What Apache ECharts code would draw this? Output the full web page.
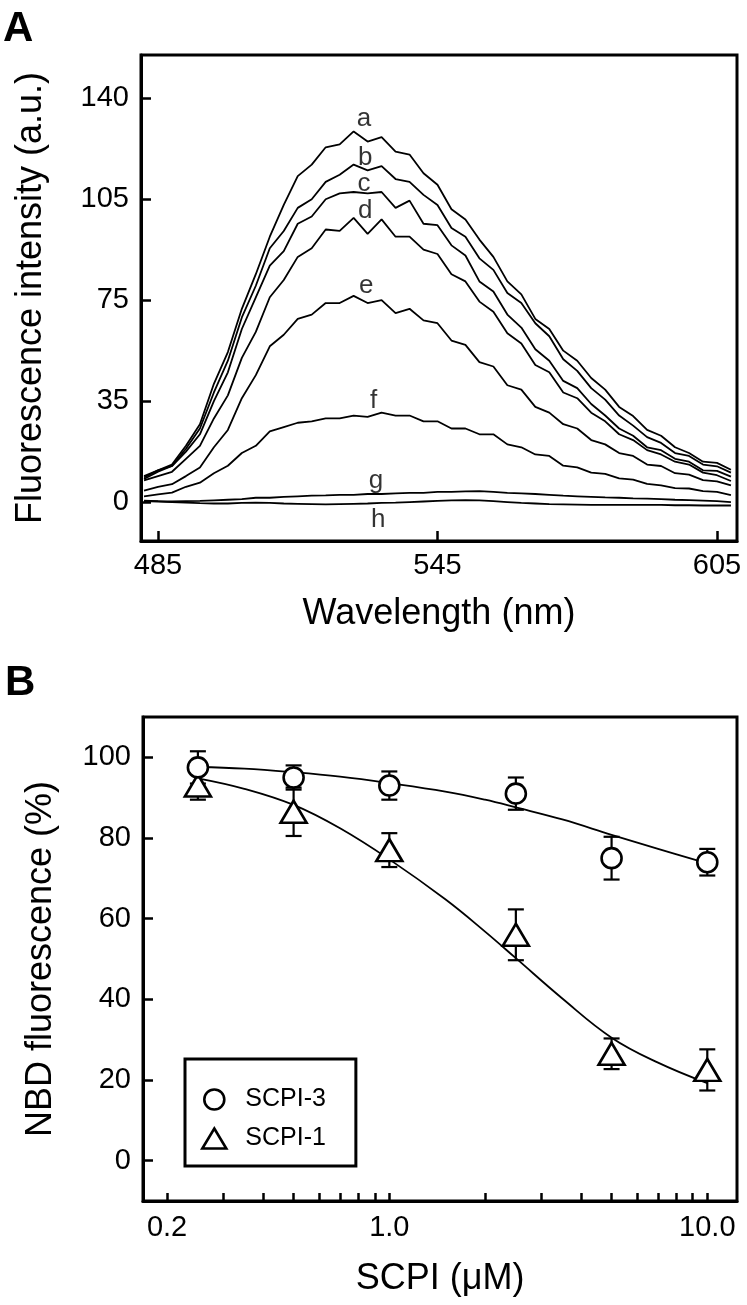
<!DOCTYPE html>
<html><head><meta charset="utf-8">
<script src="https://cdn.jsdelivr.net/npm/echarts@6/dist/echarts.min.js"></script>
<style>html,body{margin:0;padding:0;background:#fff}#c{width:747px;height:1305px}</style>
</head><body><div id="c"></div>
<script>
// ---------- Panel A data ----------
const wavelengths = [482,485,488,491,494,497,500,503,506,509,512,515,518,521,524,527,530,533,536,539,542,545,548,551,554,557,560,563,566,569,572,575,578,581,584,587,590,593,596,599,602,605,608];
const curveA = [8.5,11,13,19.5,27,41,52,67,79,92,103,113,117,123,124,128.5,125,126.5,121.5,120.5,114,110,101.5,98,91,85,76.5,72,63.5,60,52.5,49,43,39,33,29.8,25,23,19,17,14,13.6,11.2];
const curveB = [8,10.5,12.5,18.5,25.5,38,49,64,75,88,94,102,105,111,113.5,117,115,116.5,112,111,106.5,103,95,92,84.5,80.5,72.5,69,62,57.5,49.5,45.5,39.5,35.5,30,26.5,22.5,20.5,17,16,13,12.4,10.2];
const curveC = [9,11,12.5,17.5,23.5,35,45,60,71,82,87,96.5,99,105,107,107.5,107,107.5,102,104.5,96.5,96,89,85.5,76.5,73,65,60.5,53,49,42,39.5,34,30,25.5,23,19,18,15,14,11,10.8,8.8];
const curveD = [7.5,9,10.5,15,19.5,29,37,50,59,71,77,85,88,94.5,94,98.5,93,98,92,92,87.5,86,79,76.5,69.5,66,58.5,55,47.5,45,38,36,31,28,23.5,21.5,18,16.5,14,13,10.2,9.3,7.3];
const curveE = [4,5.3,6.2,9,12,19,25,36,44,54,58,63.5,65,69,69,71.5,69,70,65.5,67,63,62,56,54.5,48.5,47,40.5,39,33,31,27,25.5,21.5,20,17,16,13,12.5,10,9.5,7.6,7.2,5.8];
const curveF = [2,2.7,3.3,5.3,6.7,10,12.6,17,19.5,24.5,26,27.5,28,29,29,30,29.5,31,30,30,28,28,25.5,25.5,23.5,23.5,20,19,16.5,16,12.6,12,10.2,9.8,8.2,7.8,6.3,5.8,4.8,4.7,3.8,3.5,2.4];
const curveG = [0.5,0.3,0.2,0.3,0.4,0.6,0.8,1,1.5,1.5,1.8,2,2.2,2.3,2.5,2.5,2.8,2.8,3,3.2,3.2,3.5,3.5,3.7,3.8,3.5,3.2,3,2.8,2.5,2.2,2,1.8,1.6,1.5,1.3,1.2,1,0.8,0.7,0.5,0.3,0];
const curveH = [0.3,0.2,0,-0.2,-0.4,-0.5,-0.5,-0.3,-0.2,-0.3,-0.5,-0.6,-0.7,-0.8,-0.7,-0.6,-0.5,-0.3,-0.2,0,0.2,0.4,0.6,0.7,0.6,0.3,0,-0.3,-0.5,-0.7,-0.8,-0.9,-1,-1,-1,-1,-1,-1,-1.1,-1.1,-1.2,-1.2,-1.2];
const curveNames = ['a','b','c','d','e','f','g','h'];
const curveLabelX = [529.2,529.5,529.2,529.5,529.7,531.3,531.8,532.3];
const curveLabelY = [133,119.5,110.5,101,75,35,7.5,-6.2];
const yTicksA = [0,35,70,105,140];
const yTickTextA = ['0','35','75','105','140'];
const xTicksA = [485,545,605];

// ---------- Panel B data ----------
const conc = [0.25,0.5,1,2.5,5,10];
const scpi3 = [97.5,95,93,91,75,74];
const scpi3Err = [4,3,3.5,4,5.3,3.3];
const scpi1 = [93,86.5,77,56,26.5,22.5];
const scpi1Err = [3.5,6,4.2,6.3,3.8,5.1];
const fitConc = [0.25,0.35,0.5,0.7,1,1.5,2,2.5,3.5,5,7,10];
const fit3 = [97.6,97.2,96.3,95.2,93.6,91.5,89.5,87.6,84.6,80.8,77.3,73.7];
const fit1 = [94.8,92.2,88.2,82.4,74.7,64.8,56.8,50.2,40.2,30.5,24.3,19.2];
const xMajorB = [0.2,1,10];
const xMajorTextB = ['0.2','1.0','10.0'];
const xMinorB = [0.3,0.4,0.5,0.6,0.7,0.8,0.9,2,3,4,5,6,7,8,9];
const yTicksB = [0,20,40,60,80,100];

// ---------- chart ----------
const FONT = 'Liberation Sans, Arial, Helvetica, sans-serif';
const lg = v => Math.log10(v);
const chart = echarts.init(document.getElementById('c'), null, {renderer:'canvas'});

const curves = [curveA,curveB,curveC,curveD,curveE,curveF,curveG,curveH];
const seriesA = curves.map((cv,k)=>({
  type:'line', name:'curve-'+curveNames[k], xAxisIndex:0, yAxisIndex:0,
  data: wavelengths.map((w,i)=>[w,cv[i]]),
  showSymbol:false, symbol:'none', lineStyle:{color:'#000',width:1.8,opacity:1}, z:2, silent:true
}));
seriesA.push({
  type:'scatter', name:'curve-labels', xAxisIndex:0, yAxisIndex:0,
  data: curveNames.map((n,i)=>[curveLabelX[i],curveLabelY[i]]),
  symbolSize:1, itemStyle:{color:'rgba(0,0,0,0)'},
  label:{show:true, position:'inside', formatter:p=>curveNames[p.dataIndex], fontSize:26, fontFamily:FONT, color:'#000'},
  z:3, silent:true
});

function errSeries(vals, errs, nm){
  return {
    type:'custom', name:nm, xAxisIndex:1, yAxisIndex:1, z:1, silent:true,
    data: conc.map((c,i)=>[lg(c), vals[i]-errs[i], vals[i]+errs[i]]),
    renderItem:(params, api)=>{
      const x = api.value(0);
      const lo = api.coord([x, api.value(1)]);
      const hi = api.coord([x, api.value(2)]);
      const w = 8, st = {stroke:'#000', lineWidth:2.2};
      return {type:'group', children:[
        {type:'line', shape:{x1:lo[0],y1:lo[1],x2:hi[0],y2:hi[1]}, style:st},
        {type:'line', shape:{x1:lo[0]-w,y1:lo[1],x2:lo[0]+w,y2:lo[1]}, style:st},
        {type:'line', shape:{x1:hi[0]-w,y1:hi[1],x2:hi[0]+w,y2:hi[1]}, style:st}
      ]};
    }
  };
}
const markerStyle = {color:'#fff', borderColor:'#000', borderWidth:2.6, opacity:1};
const seriesB = [
  {type:'line', name:'fit-3', xAxisIndex:1, yAxisIndex:1, data:fitConc.map((c,i)=>[lg(c),fit3[i]]), smooth:0.4, showSymbol:false, symbol:'none', lineStyle:{color:'#000',width:1.8}, z:1, silent:true},
  {type:'line', name:'fit-1', xAxisIndex:1, yAxisIndex:1, data:fitConc.map((c,i)=>[lg(c),fit1[i]]), smooth:0.4, showSymbol:false, symbol:'none', lineStyle:{color:'#000',width:1.8}, z:1, silent:true},
  errSeries(scpi3, scpi3Err, 'err-3'),
  errSeries(scpi1, scpi1Err, 'err-1'),
  {type:'scatter', name:'SCPI-3', xAxisIndex:1, yAxisIndex:1, data:conc.map((c,i)=>[lg(c),scpi3[i]]), symbol:'circle', symbolSize:20, itemStyle:markerStyle, z:4, silent:true},
  {type:'scatter', name:'SCPI-1', xAxisIndex:1, yAxisIndex:1, data:conc.map((c,i)=>[lg(c),scpi1[i]]), symbol:'triangle', symbolSize:[26,22], itemStyle:markerStyle, z:3, silent:true}
];

const axisLineStyle = {show:true, onZero:false, lineStyle:{color:'#000', width:3}};
const tickStyle = {show:true, inside:true, length:10, lineStyle:{color:'#000', width:2.5}};
const labelStyle = {color:'#000', fontSize:29, fontFamily:FONT};

const option = {
  animation:false,
  backgroundColor:'#fff',
  textStyle:{fontFamily:FONT},
  grid:[
    {left:141, top:55, width:596, height:486, show:true, borderColor:'#000', borderWidth:3, backgroundColor:'transparent'},
    {left:143, top:717, width:594, height:484, show:true, borderColor:'#000', borderWidth:3, backgroundColor:'transparent'}
  ],
  xAxis:[
    {type:'value', gridIndex:0, min:481.35, max:609.3,
     axisLine:axisLineStyle, splitLine:{show:false},
     axisTick:Object.assign({customValues:xTicksA}, tickStyle),
     axisLabel:Object.assign({customValues:xTicksA, margin:10, formatter:v=>String(v)}, labelStyle),
     name:'Wavelength (nm)', nameLocation:'middle', nameGap:55,
     nameTextStyle:{fontSize:36, color:'#000', fontFamily:FONT}},
    {type:'value', gridIndex:1, min:lg(0.168), max:lg(12.4),
     axisLine:axisLineStyle, splitLine:{show:false},
     axisTick:Object.assign({customValues:xMajorB.concat(xMinorB).map(lg)}, tickStyle, {length:8}),
     axisLabel:Object.assign({customValues:xMajorB.map(lg), margin:12,
        formatter:v=>{ let best=0, d=1e9; xMajorB.forEach((m,i)=>{const dd=Math.abs(lg(m)-v); if(dd<d){d=dd;best=i;}}); return xMajorTextB[best]; }}, labelStyle),
     name:'SCPI (\u03BCM)', nameLocation:'middle', nameGap:60,
     nameTextStyle:{fontSize:36, color:'#000', fontFamily:FONT}}
  ],
  yAxis:[
    {type:'value', gridIndex:0, min:-13.5, max:155,
     axisLine:axisLineStyle, splitLine:{show:false},
     axisTick:Object.assign({customValues:yTicksA}, tickStyle),
     axisLabel:Object.assign({customValues:yTicksA, margin:12, formatter:v=>{const i=yTicksA.indexOf(v); return i>=0?yTickTextA[i]:String(v);}}, labelStyle),
     name:'Fluorescence intensity (a.u.)', nameLocation:'middle', nameGap:92,
     nameTextStyle:{fontSize:36, color:'#000', fontFamily:FONT}},
    {type:'value', gridIndex:1, min:-10, max:110,
     axisLine:axisLineStyle, splitLine:{show:false},
     axisTick:Object.assign({customValues:yTicksB}, tickStyle),
     axisLabel:Object.assign({customValues:yTicksB, margin:12, formatter:v=>String(v)}, labelStyle),
     name:'NBD fluorescence (%)', nameLocation:'middle', nameGap:84,
     nameTextStyle:{fontSize:36, color:'#000', fontFamily:FONT}}
  ],
  legend:{
    data:[
      {name:'SCPI-3', icon:'circle', itemStyle:markerStyle},
      {name:'SCPI-1', icon:'triangle', itemStyle:markerStyle}
    ],
    orient:'vertical', left:185, top:1059, itemWidth:24, itemHeight:20, itemGap:14,
    padding:[28,30,15,16], borderColor:'#000', borderWidth:3, selectedMode:false,
    textStyle:{fontSize:25, fontFamily:FONT, color:'#000', padding:[0,0,0,14]}
  },
  graphic:[
    {type:'text', left:3, top:8, style:{text:'A', font:'bold 42px '+FONT, fill:'#000'}},
    {type:'text', left:5, top:662, style:{text:'B', font:'bold 42px '+FONT, fill:'#000'}}
  ],
  series: seriesA.concat(seriesB)
};
chart.setOption(option);
</script>
</body></html>
